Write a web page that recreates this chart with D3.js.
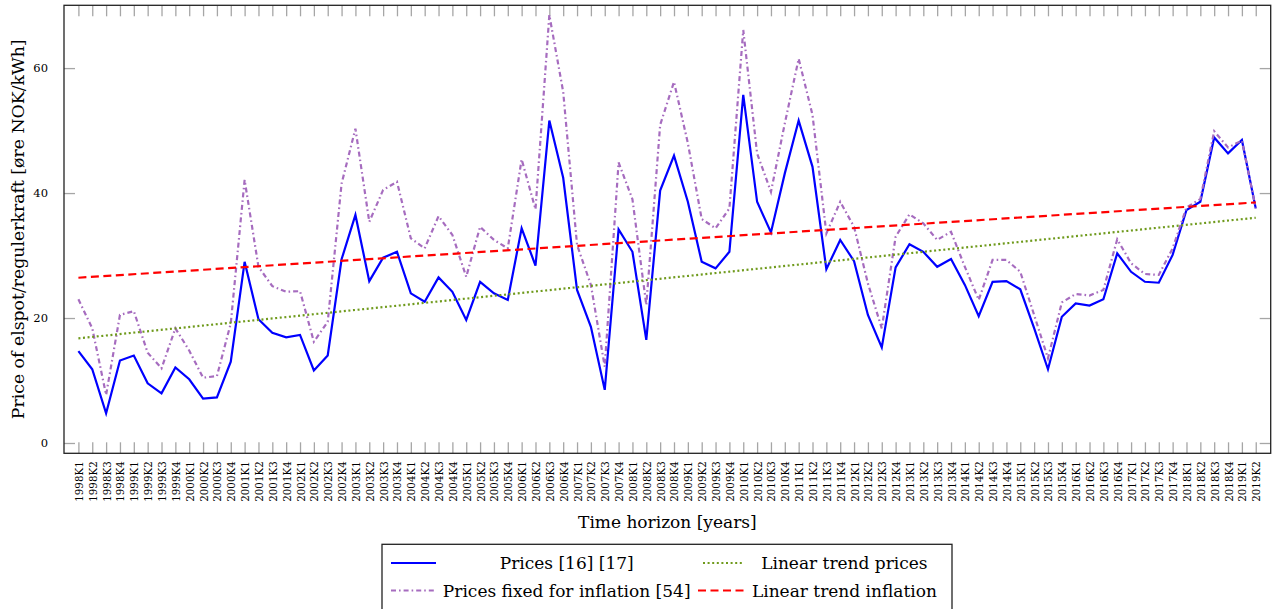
<!DOCTYPE html>
<html>
<head>
<meta charset="utf-8">
<script src="https://cdn.jsdelivr.net/npm/d3@7"></script>
<style>
  html, body { margin: 0; padding: 0; background: #fff; }
  svg { display: block; font-family: "DejaVu Serif", serif; }
</style>
</head>
<body>
<svg id="chart" width="1278" height="609"></svg>
<script>
// Quarterly categories (K = kvartal)
const quarters = [
  "1998K1","1998K2","1998K3","1998K4","1999K1","1999K2","1999K3","1999K4",
  "2000K1","2000K2","2000K3","2000K4","2001K1","2001K2","2001K3","2001K4",
  "2002K1","2002K2","2002K3","2002K4","2003K1","2003K2","2003K3","2003K4",
  "2004K1","2004K2","2004K3","2004K4","2005K1","2005K2","2005K3","2005K4",
  "2006K1","2006K2","2006K3","2006K4","2007K1","2007K2","2007K3","2007K4",
  "2008K1","2008K2","2008K3","2008K4","2009K1","2009K2","2009K3","2009K4",
  "2010K1","2010K2","2010K3","2010K4","2011K1","2011K2","2011K3","2011K4",
  "2012K1","2012K2","2012K3","2012K4","2013K1","2013K2","2013K3","2013K4",
  "2014K1","2014K2","2014K3","2014K4","2015K1","2015K2","2015K3","2015K4",
  "2016K1","2016K2","2016K3","2016K4","2017K1","2017K2","2017K3","2017K4",
  "2018K1","2018K2","2018K3","2018K4","2019K1","2019K2"
];

// Elspot / regulerkraft price, øre NOK/kWh
const prices = [
  14.7, 11.8, 4.75, 13.2, 14.0, 9.55, 7.95, 12.1,
  10.2, 7.1, 7.3, 13.0, 29.0, 19.8, 17.65, 16.9,
  17.3, 11.6, 14.0, 29.4, 36.5, 25.9, 29.65, 30.6,
  23.95, 22.6, 26.5, 24.2, 19.7, 25.8, 23.95, 22.9,
  34.35, 28.4, 51.6, 42.45, 24.5, 18.6, 8.5, 34.2,
  30.6, 16.5, 40.4, 46.0, 38.6, 29.0, 27.95, 30.6,
  55.7, 38.6, 33.7, 43.15, 51.6, 44.2, 27.8, 32.5,
  29.1, 20.5, 15.3, 28.1, 31.8, 30.6, 28.2, 29.45,
  25.3, 20.3, 25.8, 25.9, 24.6, 18.4, 11.8, 20.2,
  22.35, 22.0, 23.0, 30.35, 27.4, 25.8, 25.65, 30.1,
  37.3, 38.6, 48.9, 46.35, 48.5, 37.55
];

// Same prices adjusted for inflation
const pricesInflation = [
  23.0, 18.35, 7.7, 20.5, 21.1, 14.45, 11.95, 18.35,
  14.8, 10.45, 10.7, 19.15, 42.1, 28.2, 25.1, 24.2,
  24.3, 16.2, 19.4, 41.5, 50.3, 35.4, 40.5, 41.8,
  32.75, 31.15, 36.3, 33.3, 26.6, 34.6, 32.5, 31.15,
  45.4, 37.4, 68.5, 56.2, 31.7, 25.3, 12.2, 44.9,
  39.0, 22.1, 50.9, 57.8, 48.0, 35.85, 34.35, 37.55,
  66.1, 46.35, 40.2, 51.15, 61.5, 52.5, 33.55, 38.6,
  34.6, 25.55, 18.35, 33.0, 36.6, 35.15, 32.5, 33.8,
  28.2, 22.9, 29.3, 29.3, 27.4, 20.5, 13.55, 22.5,
  23.85, 23.6, 24.5, 32.6, 28.75, 27.05, 26.9, 31.15,
  37.7, 39.05, 49.9, 47.3, 48.4, 37.55
];

// Linear trends: value at first and last quarter
const trendPrices = [16.75, 36.05];
const trendInflation = [26.45, 38.5];

const yTicks = [0, 20, 40, 60];

const legendLabels = [
  "Prices [16] [17]",
  "Linear trend prices",
  "Prices fixed for inflation [54]",
  "Linear trend inflation"
];

// ---- layout ----
const plot = { left: 64, right: 1270.7, top: 5.3, bottom: 453.3 };
const svg = d3.select("#chart");

const x = d3.scaleLinear().domain([-1.04, 86.08]).range([plot.left, plot.right]);
const y = d3.scaleLinear().domain([-1.65, 70.05]).range([plot.bottom, plot.top]);
const idx = d3.range(quarters.length);
const last = quarters.length - 1;

const styles = {
  prices:    { color: "#0000ff", width: 2.2, dash: null },
  inflation: { color: "#a66cbf", width: 2.2, dash: "5,3,1.6,3" },
  trendP:    { color: "#6f9a1c", width: 2.2, dash: "2,2.6" },
  trendI:    { color: "#ff0000", width: 2.2, dash: "8,4.5" }
};

// ---- axes (box with inward ticks on all sides) ----
const tickColor = "#a6a6a6";
const tickLen = 11;

const xAxisBottom = d3.axisBottom(x).tickValues(idx).tickSize(-tickLen).tickFormat(i => quarters[i]);
const xAxisTop = d3.axisTop(x).tickValues(idx).tickSize(-tickLen).tickFormat("");
const yAxisLeft = d3.axisLeft(y).tickValues(yTicks).tickSize(-tickLen).tickFormat(d3.format("d"));
const yAxisRight = d3.axisRight(y).tickValues(yTicks).tickSize(-tickLen).tickFormat("");

function styleAxis(g) {
  g.select(".domain").remove();
  g.selectAll(".tick line").attr("stroke", tickColor).attr("stroke-width", 1.3);
}

const gxB = svg.append("g").attr("transform", `translate(0,${plot.bottom})`).call(xAxisBottom).call(styleAxis);
gxB.selectAll(".tick text")
  .attr("font-family", "DejaVu Serif")
  .attr("font-size", 10.3)
  .attr("fill", "#000")
  .attr("text-anchor", "end")
  .attr("dominant-baseline", "central")
  .attr("x", 0).attr("y", 0).attr("dy", null)
  .attr("transform", "translate(0,8) rotate(-90)");

svg.append("g").attr("transform", `translate(0,${plot.top})`).call(xAxisTop).call(styleAxis);

const gyL = svg.append("g").attr("transform", `translate(${plot.left},0)`).call(yAxisLeft).call(styleAxis);
gyL.selectAll(".tick text")
  .attr("font-family", "DejaVu Serif")
  .attr("font-size", 11.5)
  .attr("fill", "#000")
  .attr("x", -16);

svg.append("g").attr("transform", `translate(${plot.right},0)`).call(yAxisRight).call(styleAxis);

// ---- series ----
const line = d3.line().x((d, i) => x(i)).y(d => y(d));

function drawSeries(values, st) {
  svg.append("path")
    .datum(values)
    .attr("d", line)
    .attr("fill", "none")
    .attr("stroke", st.color)
    .attr("stroke-width", st.width)
    .attr("stroke-linejoin", "miter")
    .attr("stroke-dasharray", st.dash);
}

const trendLine = d3.line().x(d => x(d[0])).y(d => y(d[1]));
function drawTrend(ends, st) {
  svg.append("path")
    .datum([[0, ends[0]], [last, ends[1]]])
    .attr("d", trendLine)
    .attr("fill", "none")
    .attr("stroke", st.color)
    .attr("stroke-width", st.width)
    .attr("stroke-dasharray", st.dash);
}

drawSeries(prices, styles.prices);
drawSeries(pricesInflation, styles.inflation);
drawTrend(trendPrices, styles.trendP);
drawTrend(trendInflation, styles.trendI);

// frame
svg.append("rect")
  .attr("x", plot.left).attr("y", plot.top)
  .attr("width", plot.right - plot.left).attr("height", plot.bottom - plot.top)
  .attr("fill", "none").attr("stroke", "#222").attr("stroke-width", 1.3);

// ---- axis titles ----
svg.append("text")
  .attr("x", (plot.left + plot.right) / 2).attr("y", 528)
  .attr("text-anchor", "middle")
  .attr("font-size", 17)
  .text("Time horizon [years]");

svg.append("text")
  .attr("transform", `translate(24,${(plot.top + plot.bottom) / 2}) rotate(-90)`)
  .attr("text-anchor", "middle")
  .attr("font-size", 17.3)
  .text("Price of elspot/regulerkraft [øre NOK/kWh]");

// ---- legend (two columns, centred entry text) ----
const legend = svg.append("g");
legend.append("rect")
  .attr("x", 382).attr("y", 544.3)
  .attr("width", 570).attr("height", 66)
  .attr("fill", "#fff").attr("stroke", "#222").attr("stroke-width", 1.3);

const legendItems = [
  { label: legendLabels[0], st: styles.prices,    sx: [391, 436], tx: 566.7, row: 0 },
  { label: legendLabels[1], st: styles.trendP,    sx: [703, 744], tx: 844.4, row: 0 },
  { label: legendLabels[2], st: styles.inflation, sx: [391, 435], tx: 566.7, row: 1 },
  { label: legendLabels[3], st: styles.trendI,    sx: [698, 744], tx: 844.4, row: 1 }
];
const rowY = [563, 590.5];

legendItems.forEach(it => {
  const yy = rowY[it.row];
  legend.append("line")
    .attr("x1", it.sx[0]).attr("x2", it.sx[1])
    .attr("y1", yy).attr("y2", yy)
    .attr("stroke", it.st.color)
    .attr("stroke-width", it.st.width)
    .attr("stroke-dasharray", it.st.dash);
  legend.append("text")
    .attr("x", it.tx).attr("y", yy)
    .attr("dy", "0.36em")
    .attr("text-anchor", "middle")
    .attr("font-size", 17)
    .text(it.label);
});
</script>
</body>
</html>
